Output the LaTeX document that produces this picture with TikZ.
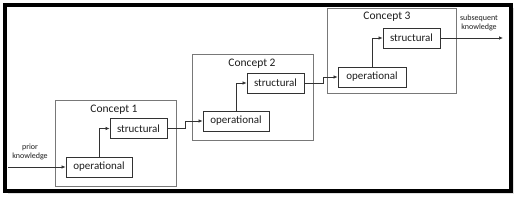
\documentclass[tikz,border=0pt]{standalone}
\usepackage{fontspec}
\setmainfont{Carlito}
\usepackage{tikz}
\usetikzlibrary{arrows.meta,positioning,shadows}
\definecolor{frameGray}{RGB}{120,120,120}
\definecolor{boxDark}{RGB}{50,50,50}
\definecolor{textDark}{RGB}{30,30,30}

\begin{document}
\begin{tikzpicture}[x=1pt,y=-1pt,
  concept/.style={rectangle,draw=frameGray,line width=0.9pt,minimum width=#1,minimum height=86pt,inner sep=0pt},
  stage/.style={rectangle,draw=boxDark,line width=0.8pt,minimum width=#1,minimum height=20pt,
                inner sep=0pt,font=\fontsize{11}{13}\selectfont,text=textDark},
  title/.style={font=\fontsize{11.5}{13}\selectfont,text=textDark},
  side/.style={font=\fontsize{8}{9.5}\selectfont,text=textDark,align=center},
  arrow/.style={-{Latex[length=4pt,width=3.5pt]},line width=0.7pt,color=boxDark}
]
\useasboundingbox (0,0) rectangle (520,201);
% Frame
\draw[line width=4pt,fill=white,drop shadow={shadow xshift=3pt,shadow yshift=-3pt,fill=gray!50}]
  (5,5) rectangle (511,191);
% Concept 1
\node[concept=121pt] (C1) at (115.5,143) {};
\node[title] (T1) at (114,110) {Concept 1};
\node[stage=57pt] (S1) at (138.5,128.5) {structural};
\node[stage=66pt] (O1) at (99,167) {operational};
% Concept 2
\node[concept=121pt] (C2) at (252.5,97) {};
\node[title] (T2) at (252,64) {Concept 2};
\node[stage=57pt] (S2) at (275.5,83) {structural};
\node[stage=66pt] (O2) at (236,121) {operational};
% Concept 3
\node[concept=129pt,minimum height=85pt] (C3) at (391.5,50.5) {};
\node[title] (T3) at (387,17) {Concept 3};
\node[stage=57pt] (S3) at (411.5,38) {structural};
\node[stage=68pt] (O3) at (372,77) {operational};
% Side labels
\node[side] (prior) at (30,152) {prior\\knowledge};
\node[side] (later) at (479,23) {subsequent\\knowledge};
\coordinate (in) at (8,167);
\coordinate (out) at (503,38);
% Arrows
\draw[arrow] (in) -- (O1.west);
\draw[arrow] (O1.north) |- (S1.west);
\draw[arrow] (S1.east) -- ++(18,0) |- (O2.west);
\draw[arrow] (O2.north) |- (S2.west);
\draw[arrow] (S2.east) -- ++(19,0) |- (O3.west);
\draw[arrow] (O3.north) |- (S3.west);
\draw[arrow] (S3.east) -- (out);
\end{tikzpicture}
\end{document}
